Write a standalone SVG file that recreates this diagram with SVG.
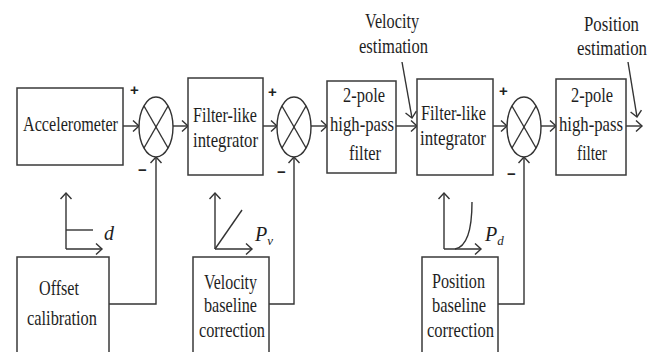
<svg xmlns="http://www.w3.org/2000/svg" width="659" height="352" viewBox="0 0 659 352">
  <style>
    .box { fill: #ffffff; stroke: #3a3a3a; stroke-width: 1.5; }
    .sum { fill: #ffffff; stroke: #333333; stroke-width: 1.4; }
    .ln { fill: none; stroke: #333333; stroke-width: 1.4; }
    .arr { fill: none; stroke: #333333; stroke-width: 1.4; marker-end: url(#head); }
    .t { font-family: "Liberation Serif", "DejaVu Serif", serif; font-size: 22px; fill: #1e1e1e; }
    .c { text-anchor: middle; font-size: 20px; }
    .it { font-family: "Liberation Serif", "DejaVu Serif", serif; font-style: italic; font-size: 20px; fill: #1e1e1e; }
    .sg { font-family: "Liberation Sans", "DejaVu Sans", sans-serif; font-size: 15px; font-weight: bold; fill: #222222; }
  </style>
  <defs>
    <marker id="head" markerWidth="10" markerHeight="14" refX="7" refY="6" orient="auto" markerUnits="userSpaceOnUse">
      <path d="M1,0.5 L7,6 L1,11.5" fill="none" stroke="#333333" stroke-width="1.4"/>
    </marker>
  </defs>
  <rect width="659" height="352" fill="#ffffff"/>

  <!-- signal path and feedback connectors -->
  <g id="connectors">
    <line class="arr" x1="123" y1="126" x2="139" y2="126"/>
    <line class="arr" x1="173" y1="126" x2="188" y2="126"/>
    <line class="arr" x1="263" y1="126" x2="277" y2="126"/>
    <line class="arr" x1="311" y1="126" x2="327" y2="126"/>
    <line class="arr" x1="396" y1="126" x2="417" y2="126"/>
    <line class="arr" x1="493" y1="126" x2="507" y2="126"/>
    <line class="arr" x1="541" y1="126" x2="556" y2="126"/>
    <line class="arr" x1="626" y1="126" x2="642" y2="126"/>
    <!-- baseline feedbacks into the summing junctions -->
    <polyline class="arr" points="109,304 156,304 156,157"/>
    <polyline class="arr" points="269,304 294,304 294,157"/>
    <polyline class="arr" points="498,304 524,304 524,157"/>
    <!-- estimate pointers -->
    <line class="arr" x1="402" y1="62" x2="412" y2="118"/>
    <line class="arr" x1="628" y1="62" x2="637" y2="117"/>
  </g>

  <g id="accelerometer">
    <rect class="box" x="17" y="88" width="106" height="77"/>
    <text class="t" x="23" y="131" textLength="95" lengthAdjust="spacingAndGlyphs">Accelerometer</text>
  </g>

  <g id="sum1">
    <ellipse class="sum" cx="156" cy="127" rx="17" ry="30"/>
    <line class="ln" x1="144" y1="106" x2="168" y2="148"/>
    <line class="ln" x1="168" y1="106" x2="144" y2="148"/>
    <text class="sg" x="130" y="95">+</text>
    <text class="sg" x="138" y="175">−</text>
  </g>

  <g id="integrator1">
    <rect class="box" x="188" y="78" width="75" height="97"/>
    <text class="t" x="193" y="122" textLength="64" lengthAdjust="spacingAndGlyphs">Filter-like</text>
    <text class="t" x="193" y="147" textLength="65" lengthAdjust="spacingAndGlyphs">integrator</text>
  </g>

  <g id="sum2">
    <ellipse class="sum" cx="294" cy="127" rx="17" ry="30"/>
    <line class="ln" x1="282" y1="106" x2="306" y2="148"/>
    <line class="ln" x1="306" y1="106" x2="282" y2="148"/>
    <text class="sg" x="268" y="97">+</text>
    <text class="sg" x="277" y="177">−</text>
  </g>

  <g id="highpass1">
    <rect class="box" x="327" y="81" width="69" height="92"/>
    <text class="t" x="343" y="102" textLength="42" lengthAdjust="spacingAndGlyphs">2-pole</text>
    <text class="t" x="330" y="131" textLength="64" lengthAdjust="spacingAndGlyphs">high-pass</text>
    <text class="t" x="349" y="160" textLength="32" lengthAdjust="spacingAndGlyphs">filter</text>
  </g>

  <g id="velocity-estimation">
    <text class="t" x="365" y="28" textLength="54" lengthAdjust="spacingAndGlyphs">Velocity</text>
    <text class="t" x="359" y="53" textLength="69" lengthAdjust="spacingAndGlyphs">estimation</text>
  </g>

  <g id="integrator2">
    <rect class="box" x="417" y="79" width="76" height="96"/>
    <text class="t" x="421" y="120" textLength="65" lengthAdjust="spacingAndGlyphs">Filter-like</text>
    <text class="t" x="420" y="145" textLength="66" lengthAdjust="spacingAndGlyphs">integrator</text>
  </g>

  <g id="sum3">
    <ellipse class="sum" cx="524" cy="127" rx="17" ry="30"/>
    <line class="ln" x1="512" y1="106" x2="536" y2="148"/>
    <line class="ln" x1="536" y1="106" x2="512" y2="148"/>
    <text class="sg" x="499" y="96">+</text>
    <text class="sg" x="507" y="179">−</text>
  </g>

  <g id="highpass2">
    <rect class="box" x="556" y="79" width="70" height="96"/>
    <text class="t" x="571" y="102" textLength="42" lengthAdjust="spacingAndGlyphs">2-pole</text>
    <text class="t" x="559" y="131" textLength="64" lengthAdjust="spacingAndGlyphs">high-pass</text>
    <text class="t" x="577" y="160" textLength="30" lengthAdjust="spacingAndGlyphs">filter</text>
  </g>

  <g id="position-estimation">
    <text class="t c" x="611.5" y="31" textLength="55" lengthAdjust="spacingAndGlyphs">Position</text>
    <text class="t c" x="612" y="55" textLength="70" lengthAdjust="spacingAndGlyphs">estimation</text>
  </g>

  <!-- offset step profile -->
  <g id="offset-graph">
    <line class="arr" x1="66" y1="249" x2="66" y2="193"/>
    <line class="arr" x1="66" y1="249" x2="102" y2="249"/>
    <line class="ln" x1="66" y1="230" x2="93" y2="230"/>
    <text class="it" x="104" y="240">d</text>
  </g>

  <g id="offset-calibration">
    <rect class="box" x="17" y="257" width="92" height="105"/>
    <text class="t" x="39" y="295" textLength="40" lengthAdjust="spacingAndGlyphs">Offset</text>
    <text class="t" x="27" y="325" textLength="70" lengthAdjust="spacingAndGlyphs">calibration</text>
  </g>

  <!-- velocity drift ramp -->
  <g id="velocity-graph">
    <line class="arr" x1="215" y1="249" x2="215" y2="193"/>
    <line class="arr" x1="215" y1="249" x2="252" y2="249"/>
    <line class="ln" x1="215" y1="249" x2="242" y2="210"/>
    <text class="it" x="255" y="241">P<tspan font-size="13" dy="4">v</tspan></text>
  </g>

  <g id="velocity-baseline">
    <rect class="box" x="193" y="257" width="76" height="105"/>
    <text class="t" x="204" y="289" textLength="53" lengthAdjust="spacingAndGlyphs">Velocity</text>
    <text class="t" x="204" y="312" textLength="53" lengthAdjust="spacingAndGlyphs">baseline</text>
    <text class="t" x="199" y="337" textLength="66" lengthAdjust="spacingAndGlyphs">correction</text>
  </g>

  <!-- position drift curve -->
  <g id="position-graph">
    <line class="arr" x1="444" y1="249" x2="444" y2="193"/>
    <line class="arr" x1="444" y1="249" x2="481" y2="249"/>
    <path class="ln" d="M455,249 C466,247 472,232 472,202"/>
    <text class="it" x="485" y="241">P<tspan font-size="13" dy="4">d</tspan></text>
  </g>

  <g id="position-baseline">
    <rect class="box" x="422" y="257" width="76" height="105"/>
    <text class="t" x="432" y="288" textLength="53" lengthAdjust="spacingAndGlyphs">Position</text>
    <text class="t" x="432" y="312" textLength="54" lengthAdjust="spacingAndGlyphs">baseline</text>
    <text class="t" x="427" y="337" textLength="67" lengthAdjust="spacingAndGlyphs">correction</text>
  </g>
</svg>
